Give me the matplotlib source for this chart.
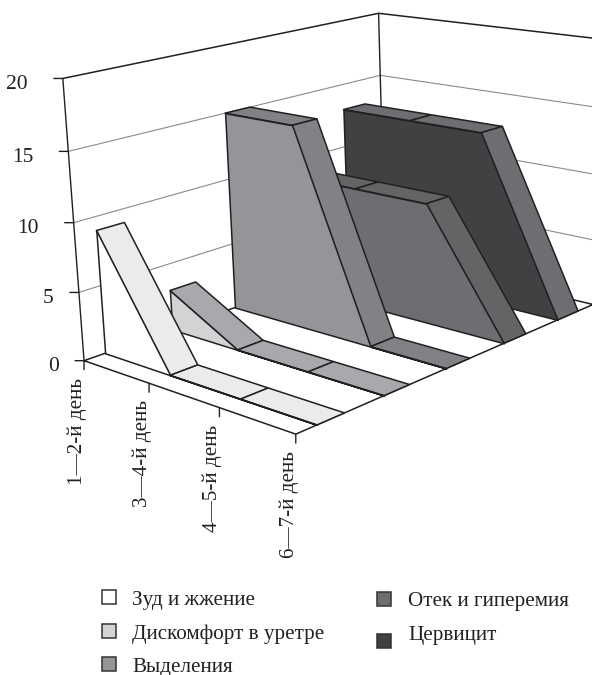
import numpy as np
import matplotlib
matplotlib.use("Agg")
import matplotlib.pyplot as plt
from matplotlib.patches import Rectangle
from mpl_toolkits.mplot3d import proj3d
from mpl_toolkits.mplot3d.art3d import Poly3DCollection

days = ["1—2-й день", "3—4-й день", "4—5-й день", "6—7-й день"]
names = ["Зуд и жжение", "Дискомфорт в уретре", "Выделения", "Отек и гиперемия", "Цервицит"]

itching = [9, 0, 0, 0]
discomfort = [3, 0, 0, 0]
discharge = [15, 15, 0, 0]
edema = [9, 9, 9, 0]
cervicitis = [13, 13, 13, 0]
values = [itching, discomfort, discharge, edema, cervicitis]

z_ticks = [0, 5, 10, 15, 20]

front_colors = ["#ffffff", "#d1d3d4", "#939598", "#6d6e71", "#414042"]
top_colors = ["#ebebeb", "#a7a9ac", "#808285", "#636466", "#6d6e71"]

W, H = 592, 675
DARK = "#231f20"
FONT = "Liberation Serif"

fig = plt.figure(figsize=(W / 100, H / 100), dpi=100)

# oversized square axes, the scene is placed inside it by the camera settings
S = 900.0
ax = fig.add_axes([-119.84 / W, 15.24 / H, S / W, S / H], projection="3d", computed_zorder=False)
ax.set_xlim(0, 3)
ax.set_ylim(0, 5)
ax.set_zlim(0, 20)
ax.view_init(elev=15.15, azim=-46.33, roll=1.90)
ax.set_box_aspect((1, 1.5162, 0.9647), zoom=0.6527)
ax.set_proj_type("persp", focal_length=0.3587)
ax.set_axis_off()

x_max = len(days) - 1
y_max = len(names)


def line3d(xs, ys, zs, color=DARK, lw=1.0, z=2):
    ax.plot(xs, ys, zs, color=color, lw=lw, zorder=z, solid_capstyle="round")


# walls and floor
for tick in z_ticks[1:-1]:
    line3d([0, 0, x_max], [0, y_max, y_max], [tick, tick, tick], color="#8a8a8a", lw=0.8, z=1)
line3d([0, 0, x_max], [0, y_max, y_max], [20, 20, 20], lw=1.1)
line3d([0, 0], [0, 0], [0, 20])
line3d([0, 0], [y_max, y_max], [0, 20])
line3d([x_max, x_max], [y_max, y_max], [0, 20])
line3d([0, x_max, x_max, 0, 0], [0, 0, y_max, y_max, 0], [0, 0, 0, 0, 0], lw=1.1)

# one ribbon per series, far ones first
for k in range(len(names) - 1, -1, -1):
    y0, y1 = k + 0.3, k + 0.7
    vals = values[k]
    strips = []
    for i in range(x_max):
        strips.append([(i, y0, vals[i]), (i + 1, y0, vals[i + 1]), (i + 1, y1, vals[i + 1]), (i, y1, vals[i])])
    ax.add_collection3d(Poly3DCollection(strips, facecolors=top_colors[k], edgecolors=DARK,
                                         linewidths=1.1, zorder=10 + 2 * (5 - k)))
    face = [(i, y0, vals[i]) for i in range(x_max + 1)] + [(x_max, y0, 0), (0, y0, 0)]
    ax.add_collection3d(Poly3DCollection([face], facecolors=front_colors[k], edgecolors=DARK,
                                         linewidths=1.1, zorder=11 + 2 * (5 - k)))


def screen(x, y, z):
    u, v, _ = proj3d.proj_transform(x, y, z, ax.get_proj())
    return float(u), float(v)


def tick_mark(point, dx, dy):
    ax.annotate("", xy=point, xytext=(dx, dy), textcoords="offset pixels", zorder=3,
                arrowprops=dict(arrowstyle="-", color=DARK, lw=1.0, shrinkA=0, shrinkB=0))


for tick in z_ticks:
    point = screen(0, 0, tick)
    tick_mark(point, -9, 0)
    shift = -35 if tick >= 10 else -25
    ax.annotate(str(tick), xy=point, xytext=(shift, -6), textcoords="offset pixels",
                ha="right", va="center", fontsize=15.5, family=FONT, color="#222222")

for i, day in enumerate(days):
    point = screen(i, 0, 0)
    tick_mark(point, 0, -9)
    ax.annotate(day, xy=point, xytext=(3, -17), textcoords="offset pixels", rotation=90,
                ha="right", va="top", fontsize=15.2, family=FONT, color="#222222")


def legend_entry(name, color, box_x, box_top, text_x, baseline):
    fig.add_artist(Rectangle((box_x / W, 1 - (box_top + 14) / H), 14 / W, 14 / H, transform=fig.transFigure,
                             facecolor=color, edgecolor="#333333", lw=1.1))
    fig.text(text_x / W, 1 - baseline / H, name, fontsize=15.2, family=FONT, color="#222222", va="baseline")


legend_entry(names[0], front_colors[0], 102, 590, 132.5, 605)
legend_entry(names[1], front_colors[1], 102, 624, 132.5, 639)
legend_entry(names[2], front_colors[2], 102, 657, 132.5, 672)
legend_entry(names[3], front_colors[3], 377, 592, 408, 606)
legend_entry(names[4], front_colors[4], 377, 634, 408, 640)

fig.savefig("out.png", dpi=100)
